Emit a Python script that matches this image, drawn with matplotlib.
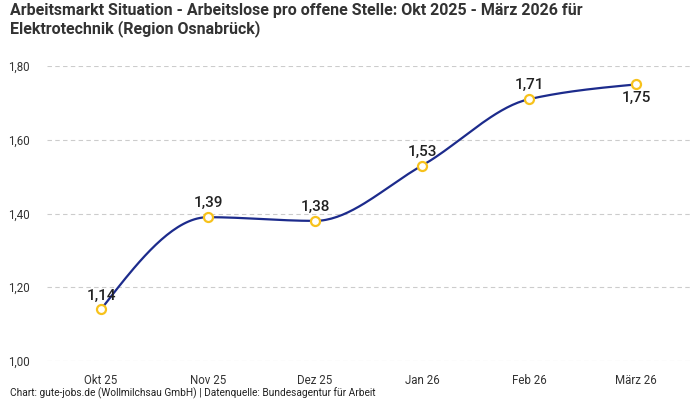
import numpy as np
import matplotlib
matplotlib.use("Agg")
import matplotlib.pyplot as plt

categories = ["Okt 25", "Nov 25", "Dez 25", "Jan 26", "Feb 26", "März 26"]
values = [1.14, 1.39, 1.38, 1.53, 1.71, 1.75]
label_pos = ["above", "above", "above", "above", "above", "below"]
yticks = [1.00, 1.20, 1.40, 1.60, 1.80]

plt.rcParams['font.family'] = ['Roboto', 'DejaVu Sans']

def monotone_curve(x, y, n=40):
    x = np.asarray(x, float); y = np.asarray(y, float)
    h = np.diff(x); d = np.diff(y) / h
    m = np.zeros_like(y)
    for i in range(1, len(y) - 1):
        if d[i-1] * d[i] <= 0:
            m[i] = 0
        else:
            w1 = 2*h[i] + h[i-1]; w2 = h[i] + 2*h[i-1]
            m[i] = (w1 + w2) / (w1/d[i-1] + w2/d[i])
    m[0] = (3*d[0] - m[1]) / 2
    m[-1] = (3*d[-1] - m[-2]) / 2
    xs, ys = [], []
    for i in range(len(x) - 1):
        t = np.linspace(0, 1, n)
        h00 = 2*t**3 - 3*t**2 + 1; h10 = t**3 - 2*t**2 + t
        h01 = -2*t**3 + 3*t**2; h11 = t**3 - t**2
        xs.append(x[i] + t*h[i])
        ys.append(h00*y[i] + h10*h[i]*m[i] + h01*y[i+1] + h11*h[i]*m[i+1])
    return np.concatenate(xs), np.concatenate(ys)

fig = plt.figure(figsize=(7, 4), dpi=100)
ax = fig.add_axes([47.5/700, 39/400, 642/700, 295/400])

xi = np.arange(len(categories))
cx, cy = monotone_curve(xi, values)
ax.plot(cx, cy, color="#1c2b8c", lw=1.6, zorder=2)
ax.plot(xi, values, 'o', ms=6.5, mfc="white", mec="#f7c21c", mew=1.6, zorder=3)

for x, v, p in zip(xi, values, label_pos):
    off = 5 if p == "above" else -5
    ax.annotate(f"{v:.2f}".replace(".", ","), (x, v), xytext=(0, off),
                textcoords="offset points", ha="center",
                va="bottom" if p == "above" else "top",
                fontsize=11, fontweight="medium", color="#222222", zorder=4)

ax.set_xlim(-0.5, len(categories) - 0.5)
ax.set_ylim(1.0, 1.8)
ax.set_yticks(yticks)
ax.set_yticklabels([f"{t:.2f}".replace(".", ",") for t in yticks])
ax.set_xticks(xi)
ax.set_xticklabels(categories)
ax.tick_params(axis='both', length=0, labelsize=8.3, colors="#333333")
ax.tick_params(axis='y', pad=13)
ax.tick_params(axis='x', pad=9)
for s in ax.spines.values():
    s.set_visible(False)
ax.grid(axis='y', color="#cccccc", linestyle=(0, (4, 3)), lw=0.8)
ax.set_axisbelow(True)

fig.text(10/700, 1 - 3/400, "Arbeitsmarkt Situation - Arbeitslose pro offene Stelle: Okt 2025 - März 2026 für\nElektrotechnik (Region Osnabrück)",
         ha="left", va="top", fontsize=11.5, fontweight="bold", color="#333333", linespacing=1.15)
fig.text(10/700, 1 - 393/400, "Chart: gute-jobs.de (Wollmilchsau GmbH) | Datenquelle: Bundesagentur für Arbeit",
         ha="left", va="center", fontsize=7.3, color="#222222")

fig.savefig("out.png", dpi=100)
